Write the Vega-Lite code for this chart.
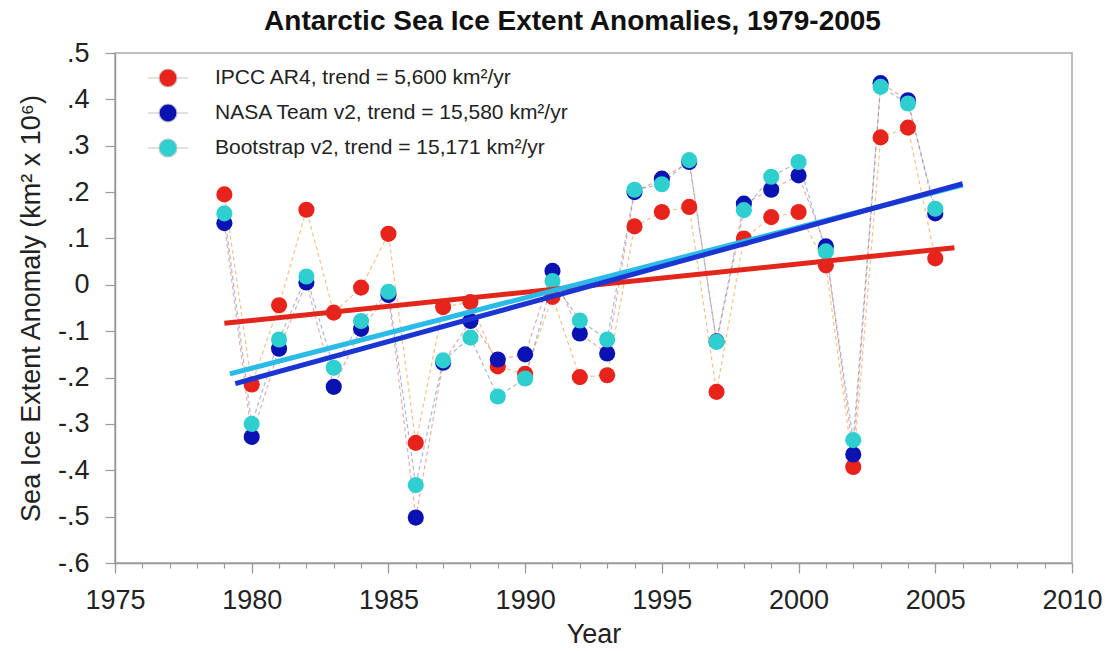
{
  "$schema": "https://vega.github.io/schema/vega-lite/v6.json",
  "width": 957,
  "height": 510,
  "autosize": {"type": "none"},
  "padding": {"left": 115, "top": 53, "right": 33, "bottom": 88},
  "background": "white",
  "title": {
    "text": "Antarctic Sea Ice Extent Anomalies, 1979-2005",
    "font": "Liberation Sans",
    "fontSize": 28,
    "fontWeight": "bold",
    "color": "#111",
    "anchor": "middle",
    "frame": "group",
    "dx": -21,
    "offset": 3
  },
  "config": {
    "view": {"stroke": "#aaaaaa", "strokeWidth": 1.5},
    "font": "Liberation Sans",
    "axis": {
      "domainColor": "#999999",
      "domainWidth": 1.5,
      "tickColor": "#999999",
      "tickWidth": 1.2,
      "grid": false,
      "labelFont": "Liberation Sans",
      "labelColor": "#222",
      "titleFont": "Liberation Sans",
      "titleFontWeight": "normal",
      "titleColor": "#222",
      "labelOverlap": false
    },
    "legend": {
      "labelFont": "Liberation Sans",
      "labelColor": "#222"
    }
  },
  "datasets": {
    "obs": [
      {"series": "IPCC AR4", "year": 1979, "value": 0.195},
      {"series": "IPCC AR4", "year": 1980, "value": -0.215},
      {"series": "IPCC AR4", "year": 1981, "value": -0.044},
      {"series": "IPCC AR4", "year": 1982, "value": 0.162},
      {"series": "IPCC AR4", "year": 1983, "value": -0.060},
      {"series": "IPCC AR4", "year": 1984, "value": -0.006},
      {"series": "IPCC AR4", "year": 1985, "value": 0.110},
      {"series": "IPCC AR4", "year": 1986, "value": -0.341},
      {"series": "IPCC AR4", "year": 1987, "value": -0.048},
      {"series": "IPCC AR4", "year": 1988, "value": -0.037},
      {"series": "IPCC AR4", "year": 1989, "value": -0.176},
      {"series": "IPCC AR4", "year": 1990, "value": -0.192},
      {"series": "IPCC AR4", "year": 1991, "value": -0.026},
      {"series": "IPCC AR4", "year": 1992, "value": -0.199},
      {"series": "IPCC AR4", "year": 1993, "value": -0.195},
      {"series": "IPCC AR4", "year": 1994, "value": 0.126},
      {"series": "IPCC AR4", "year": 1995, "value": 0.157},
      {"series": "IPCC AR4", "year": 1996, "value": 0.168},
      {"series": "IPCC AR4", "year": 1997, "value": -0.231},
      {"series": "IPCC AR4", "year": 1998, "value": 0.100},
      {"series": "IPCC AR4", "year": 1999, "value": 0.146},
      {"series": "IPCC AR4", "year": 2000, "value": 0.157},
      {"series": "IPCC AR4", "year": 2001, "value": 0.042},
      {"series": "IPCC AR4", "year": 2002, "value": -0.393},
      {"series": "IPCC AR4", "year": 2003, "value": 0.318},
      {"series": "IPCC AR4", "year": 2004, "value": 0.339},
      {"series": "IPCC AR4", "year": 2005, "value": 0.057},
      {"series": "NASA Team v2", "year": 1979, "value": 0.133},
      {"series": "NASA Team v2", "year": 1980, "value": -0.328},
      {"series": "NASA Team v2", "year": 1981, "value": -0.138},
      {"series": "NASA Team v2", "year": 1982, "value": 0.005},
      {"series": "NASA Team v2", "year": 1983, "value": -0.220},
      {"series": "NASA Team v2", "year": 1984, "value": -0.095},
      {"series": "NASA Team v2", "year": 1985, "value": -0.022},
      {"series": "NASA Team v2", "year": 1986, "value": -0.502},
      {"series": "NASA Team v2", "year": 1987, "value": -0.168},
      {"series": "NASA Team v2", "year": 1988, "value": -0.078},
      {"series": "NASA Team v2", "year": 1989, "value": -0.161},
      {"series": "NASA Team v2", "year": 1990, "value": -0.150},
      {"series": "NASA Team v2", "year": 1991, "value": 0.030},
      {"series": "NASA Team v2", "year": 1992, "value": -0.105},
      {"series": "NASA Team v2", "year": 1993, "value": -0.148},
      {"series": "NASA Team v2", "year": 1994, "value": 0.200},
      {"series": "NASA Team v2", "year": 1995, "value": 0.229},
      {"series": "NASA Team v2", "year": 1996, "value": 0.265},
      {"series": "NASA Team v2", "year": 1997, "value": -0.122},
      {"series": "NASA Team v2", "year": 1998, "value": 0.175},
      {"series": "NASA Team v2", "year": 1999, "value": 0.205},
      {"series": "NASA Team v2", "year": 2000, "value": 0.236},
      {"series": "NASA Team v2", "year": 2001, "value": 0.083},
      {"series": "NASA Team v2", "year": 2002, "value": -0.366},
      {"series": "NASA Team v2", "year": 2003, "value": 0.435},
      {"series": "NASA Team v2", "year": 2004, "value": 0.398},
      {"series": "NASA Team v2", "year": 2005, "value": 0.154},
      {"series": "Bootstrap v2", "year": 1979, "value": 0.154},
      {"series": "Bootstrap v2", "year": 1980, "value": -0.300},
      {"series": "Bootstrap v2", "year": 1981, "value": -0.118},
      {"series": "Bootstrap v2", "year": 1982, "value": 0.018},
      {"series": "Bootstrap v2", "year": 1983, "value": -0.179},
      {"series": "Bootstrap v2", "year": 1984, "value": -0.078},
      {"series": "Bootstrap v2", "year": 1985, "value": -0.015},
      {"series": "Bootstrap v2", "year": 1986, "value": -0.432},
      {"series": "Bootstrap v2", "year": 1987, "value": -0.163},
      {"series": "Bootstrap v2", "year": 1988, "value": -0.114},
      {"series": "Bootstrap v2", "year": 1989, "value": -0.241},
      {"series": "Bootstrap v2", "year": 1990, "value": -0.202},
      {"series": "Bootstrap v2", "year": 1991, "value": 0.008},
      {"series": "Bootstrap v2", "year": 1992, "value": -0.077},
      {"series": "Bootstrap v2", "year": 1993, "value": -0.118},
      {"series": "Bootstrap v2", "year": 1994, "value": 0.205},
      {"series": "Bootstrap v2", "year": 1995, "value": 0.217},
      {"series": "Bootstrap v2", "year": 1996, "value": 0.269},
      {"series": "Bootstrap v2", "year": 1997, "value": -0.123},
      {"series": "Bootstrap v2", "year": 1998, "value": 0.161},
      {"series": "Bootstrap v2", "year": 1999, "value": 0.233},
      {"series": "Bootstrap v2", "year": 2000, "value": 0.265},
      {"series": "Bootstrap v2", "year": 2001, "value": 0.072},
      {"series": "Bootstrap v2", "year": 2002, "value": -0.335},
      {"series": "Bootstrap v2", "year": 2003, "value": 0.427},
      {"series": "Bootstrap v2", "year": 2004, "value": 0.391},
      {"series": "Bootstrap v2", "year": 2005, "value": 0.164}
    ],
    "trend": [
      {"series": "IPCC AR4", "year": 1979.0, "value": -0.083},
      {"series": "IPCC AR4", "year": 2005.7, "value": 0.080},
      {"series": "Bootstrap v2", "year": 1979.2, "value": -0.192},
      {"series": "Bootstrap v2", "year": 2006.0, "value": 0.215},
      {"series": "NASA Team v2", "year": 1979.4, "value": -0.213},
      {"series": "NASA Team v2", "year": 2006.0, "value": 0.218}
    ]
  },
  "layer": [
    {
      "mark": {"type": "rule", "color": "#cccccc", "strokeWidth": 1},
      "encoding": {"y": {"datum": 0, "type": "quantitative"}}
    },
    {
      "data": {"name": "obs"},
      "mark": {"type": "line", "strokeWidth": 1.2, "strokeDash": [4, 3], "opacity": 0.5},
      "encoding": {
        "x": {
          "field": "year",
          "type": "quantitative",
          "axis": {
            "orient": "bottom",
            "title": null,
            "labels": false,
            "domain": false,
            "tickSize": 5,
            "values": [1975,1976,1977,1978,1979,1980,1981,1982,1983,1984,1985,1986,1987,1988,1989,1990,1991,1992,1993,1994,1995,1996,1997,1998,1999,2000,2001,2002,2003,2004,2005,2006,2007,2008,2009,2010]
          }
        },
        "y": {"field": "value", "type": "quantitative"},
        "color": {"field": "series", "type": "nominal", "legend": null},
        "detail": {"field": "series"}
      }
    },
    {
      "data": {"name": "obs"},
      "mark": {"type": "point", "filled": true, "opacity": 1, "size": 260, "shape": "circle"},
      "encoding": {
        "x": {"field": "year", "type": "quantitative", "axis": null},
        "y": {"field": "value", "type": "quantitative"},
        "color": {
          "field": "series",
          "type": "nominal",
          "scale": {
            "domain": ["IPCC AR4", "NASA Team v2", "Bootstrap v2"],
            "range": ["#e8231c", "#0b12b2", "#2fcfd0"]
          },
          "legend": {
            "title": null,
            "orient": "none",
            "legendX": 32,
            "legendY": 4,
            "padding": 0,
            "symbolType": "M-1,0L-0.46,0M0.46,0L1,0M0.45,0A0.45,0.45,0,1,1,-0.45,0A0.45,0.45,0,1,1,0.45,0Z",
            "symbolSize": 1600,
            "symbolStrokeColor": "#c4c4c4",
            "symbolStrokeWidth": 1.2,
            "symbolOpacity": 1,
            "labelFontSize": 21,
            "labelOffset": 26,
            "labelLimit": 600,
            "rowPadding": 2,
            "labelExpr": "datum.label == 'IPCC AR4' ? 'IPCC AR4, trend = 5,600 km²/yr' : datum.label == 'NASA Team v2' ? 'NASA Team v2, trend = 15,580 km²/yr' : 'Bootstrap v2, trend = 15,171 km²/yr'"
          }
        }
      }
    },
    {
      "data": {"name": "trend"},
      "mark": {"type": "line", "strokeWidth": 5, "strokeCap": "butt"},
      "encoding": {
        "x": {
          "field": "year",
          "type": "quantitative",
          "scale": {"domain": [1975, 2010], "nice": false, "zero": false},
          "axis": {
            "orient": "bottom",
            "title": "Year",
            "titleFontSize": 27,
            "titlePadding": 8,
            "labelFontSize": 27,
            "labelPadding": 14,
            "tickSize": 10,
            "format": "d",
            "values": [1975,1980,1985,1990,1995,2000,2005,2010],
            "labelFlush": false,
            "labelOverlap": false
          }
        },
        "y": {
          "field": "value",
          "type": "quantitative",
          "scale": {"domain": [-0.6, 0.5], "nice": false, "zero": false},
          "axis": {
            "title": "Sea Ice Extent Anomaly (km² x 10⁶)",
            "titleFontSize": 27,
            "titlePadding": 12,
            "labelFontSize": 27,
            "labelPadding": 16,
            "tickSize": 10,
            "values": [-0.6,-0.55,-0.5,-0.45,-0.4,-0.35,-0.3,-0.25,-0.2,-0.15,-0.1,-0.05,0,0.05,0.1,0.15,0.2,0.25,0.3,0.35,0.4,0.45,0.5],
            "labelExpr": "abs(datum.value*10 - round(datum.value*10)) > 0.01 ? '' : (abs(datum.value) < 0.001 ? '0' : (datum.value < 0 ? '-' : '') + '.' + round(abs(datum.value)*10))",
            "labelFlush": false,
            "labelOverlap": false,
            "encode": {"ticks": {"update": {"x2": {"signal": "abs(datum.value*10 - round(datum.value*10)) > 0.01 ? -5 : -10"}}}}
          }
        },
        "color": {
          "field": "series",
          "type": "nominal",
          "scale": {
            "domain": ["IPCC AR4", "Bootstrap v2", "NASA Team v2"],
            "range": ["#e3261c", "#2bbbe8", "#1b35d2"]
          },
          "legend": null
        },
        "detail": {"field": "series"}
      }
    }
  ],
  "resolve": {"scale": {"color": "independent"}, "axis": {"x": "independent"}}
}
